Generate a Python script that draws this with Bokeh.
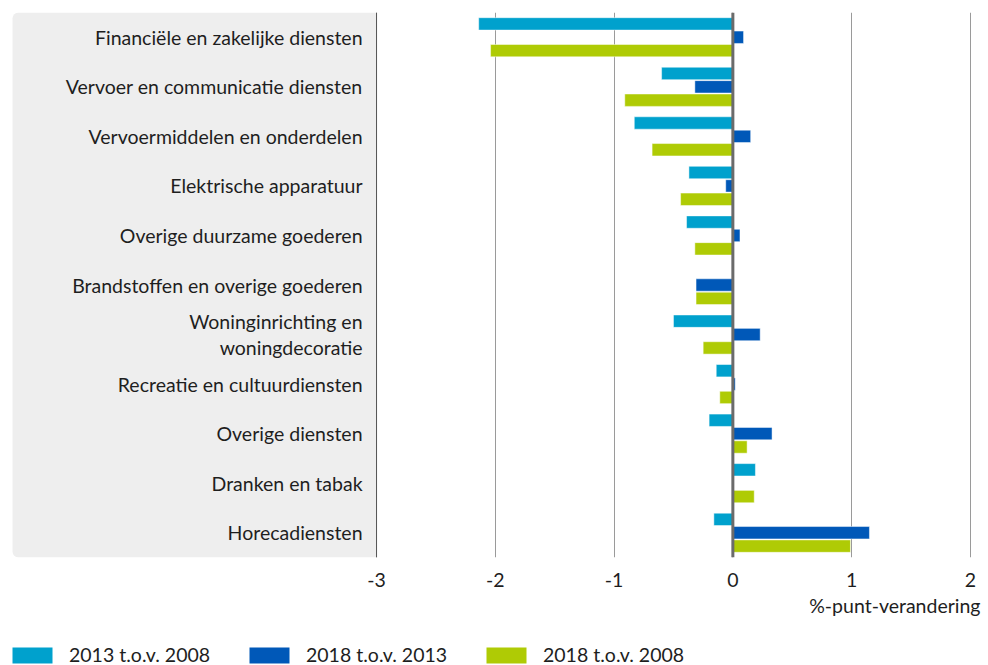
from bokeh.plotting import figure
from bokeh.layouts import column
from bokeh.models import (FactorRange, Range1d, FixedTicker, Span, Legend, LegendItem,
                          ColumnDataSource, BoxAnnotation, Title)
from bokeh.core.properties import value
from bokeh.transform import dodge
from bokeh.embed import file_html
from bokeh.resources import INLINE

categories = [
    "Financiële en zakelijke diensten",
    "Vervoer en communicatie diensten",
    "Vervoermiddelen en onderdelen",
    "Elektrische apparatuur",
    "Overige duurzame goederen",
    "Brandstoffen en overige goederen",
    "Woninginrichting en\nwoningdecoratie",
    "Recreatie en cultuurdiensten",
    "Overige diensten",
    "Dranken en tabak",
    "Horecadiensten",
]
s2013_2008 = [-2.14, -0.60, -0.83, -0.37, -0.39, 0.0, -0.50, -0.14, -0.20, 0.19, -0.16]
s2018_2013 = [0.09, -0.32, 0.15, -0.06, 0.06, -0.31, 0.23, 0.02, 0.33, 0.0, 1.15]
s2018_2008 = [-2.04, -0.91, -0.68, -0.44, -0.32, -0.31, -0.25, -0.11, 0.12, 0.18, 0.99]
series_labels = ["2013 t.o.v. 2008", "2018 t.o.v. 2013", "2018 t.o.v. 2008"]
x_ticks = [-3, -2, -1, 0, 1, 2]
x_tick_labels = ["-3", "-2", "-1", "0", "1", "2"]
x_title = "%-punt-verandering"

colors = ["#00a1cd", "#0058b8", "#afcb05"]
FONT = "Lato"
FS = "19.5px"
TXT = "#1e1e1e"

value_min = x_ticks[0]
x_start = -6.124
panel_left = -6.065
x_end = 2.085

src = ColumnDataSource(dict(cat=categories, a=s2013_2008, b=s2018_2013, c=s2018_2008,
                            lx=[value_min] * len(categories)))

p = figure(
    width=988, height=640,
    y_range=FactorRange(*categories[::-1]),
    x_range=Range1d(x_start, x_end),
    output_backend="svg", toolbar_location=None,
    y_axis_location=None,
    min_border_left=5, min_border_right=8, min_border_top=12, min_border_bottom=83,
    outline_line_color=None,
)

# label panel
p.add_layout(BoxAnnotation(left=panel_left, right=value_min, fill_color="#eeeeee", fill_alpha=1,
                           line_color=None, border_radius=(6, 0, 0, 6), level="underlay"))
p.add_layout(Span(location=value_min, dimension="height", line_color="#555555", line_width=1))

renderers = []
for col, off, c in zip(["a", "b", "c"], [0.27, 0.0, -0.27], colors):
    r = p.hbar(y=dodge("cat", off, range=p.y_range), right=col, left=0, height=0.25,
               source=src, fill_color=c, line_color="#ffffff", line_width=0.8, line_alpha=0.6)
    renderers.append(r)

p.text(x="lx", y="cat", text="cat", source=src, x_offset=-14,
       text_align="right", text_baseline="middle", text_font=value(FONT),
       text_font_size=FS, text_color=TXT, text_line_height=1.15)

p.add_layout(Span(location=0, dimension="height", line_color="#6b6b6b", line_width=3))

p.xaxis.ticker = FixedTicker(ticks=x_ticks)
p.xaxis.major_label_overrides = dict(zip(x_ticks, x_tick_labels))
p.xaxis.axis_line_color = None
p.xaxis.major_tick_line_color = None
p.xaxis.minor_tick_line_color = None
p.xaxis.major_label_standoff = 9
p.xaxis.major_label_text_font = FONT
p.xaxis.major_label_text_font_size = FS
p.xaxis.major_label_text_color = TXT

p.add_layout(Title(text=x_title, align="right", standoff=4, text_font=FONT,
                   text_font_size=FS, text_font_style="normal", text_color=TXT), "below")

p.xgrid.grid_line_color = "#9a9a9a"
p.xgrid.grid_line_width = 1
p.ygrid.grid_line_color = None

# legend strip (zero-width proxy bars only provide the legend swatches)
p2 = figure(
    width=988, height=25, x_range=Range1d(0, 1), y_range=Range1d(0, 1),
    output_backend="svg", toolbar_location=None,
    x_axis_location=None, y_axis_location=None,
    min_border_left=0, min_border_right=0, min_border_top=0, min_border_bottom=0,
    outline_line_color=None,
)
p2.xgrid.grid_line_color = None
p2.ygrid.grid_line_color = None
leg_renderers = []
for c in colors:
    leg_renderers.append(p2.hbar(y=[0], right=[0], left=[0], height=0, fill_color=c,
                                 line_color=None))

legend = Legend(
    items=[LegendItem(label=l, renderers=[r]) for l, r in zip(series_labels, leg_renderers)],
    orientation="horizontal", location=(2, -1),
    glyph_width=50, glyph_height=20, label_height=20, label_standoff=12,
    label_width=165, spacing=10, padding=0, margin=0,
    border_line_color=None, background_fill_alpha=0,
    label_text_font=FONT, label_text_font_size=FS, label_text_color=TXT,
)
p2.add_layout(legend, "center")

layout = column(p, p2, spacing=0)
open("out.html", "w").write(file_html(layout, INLINE))
